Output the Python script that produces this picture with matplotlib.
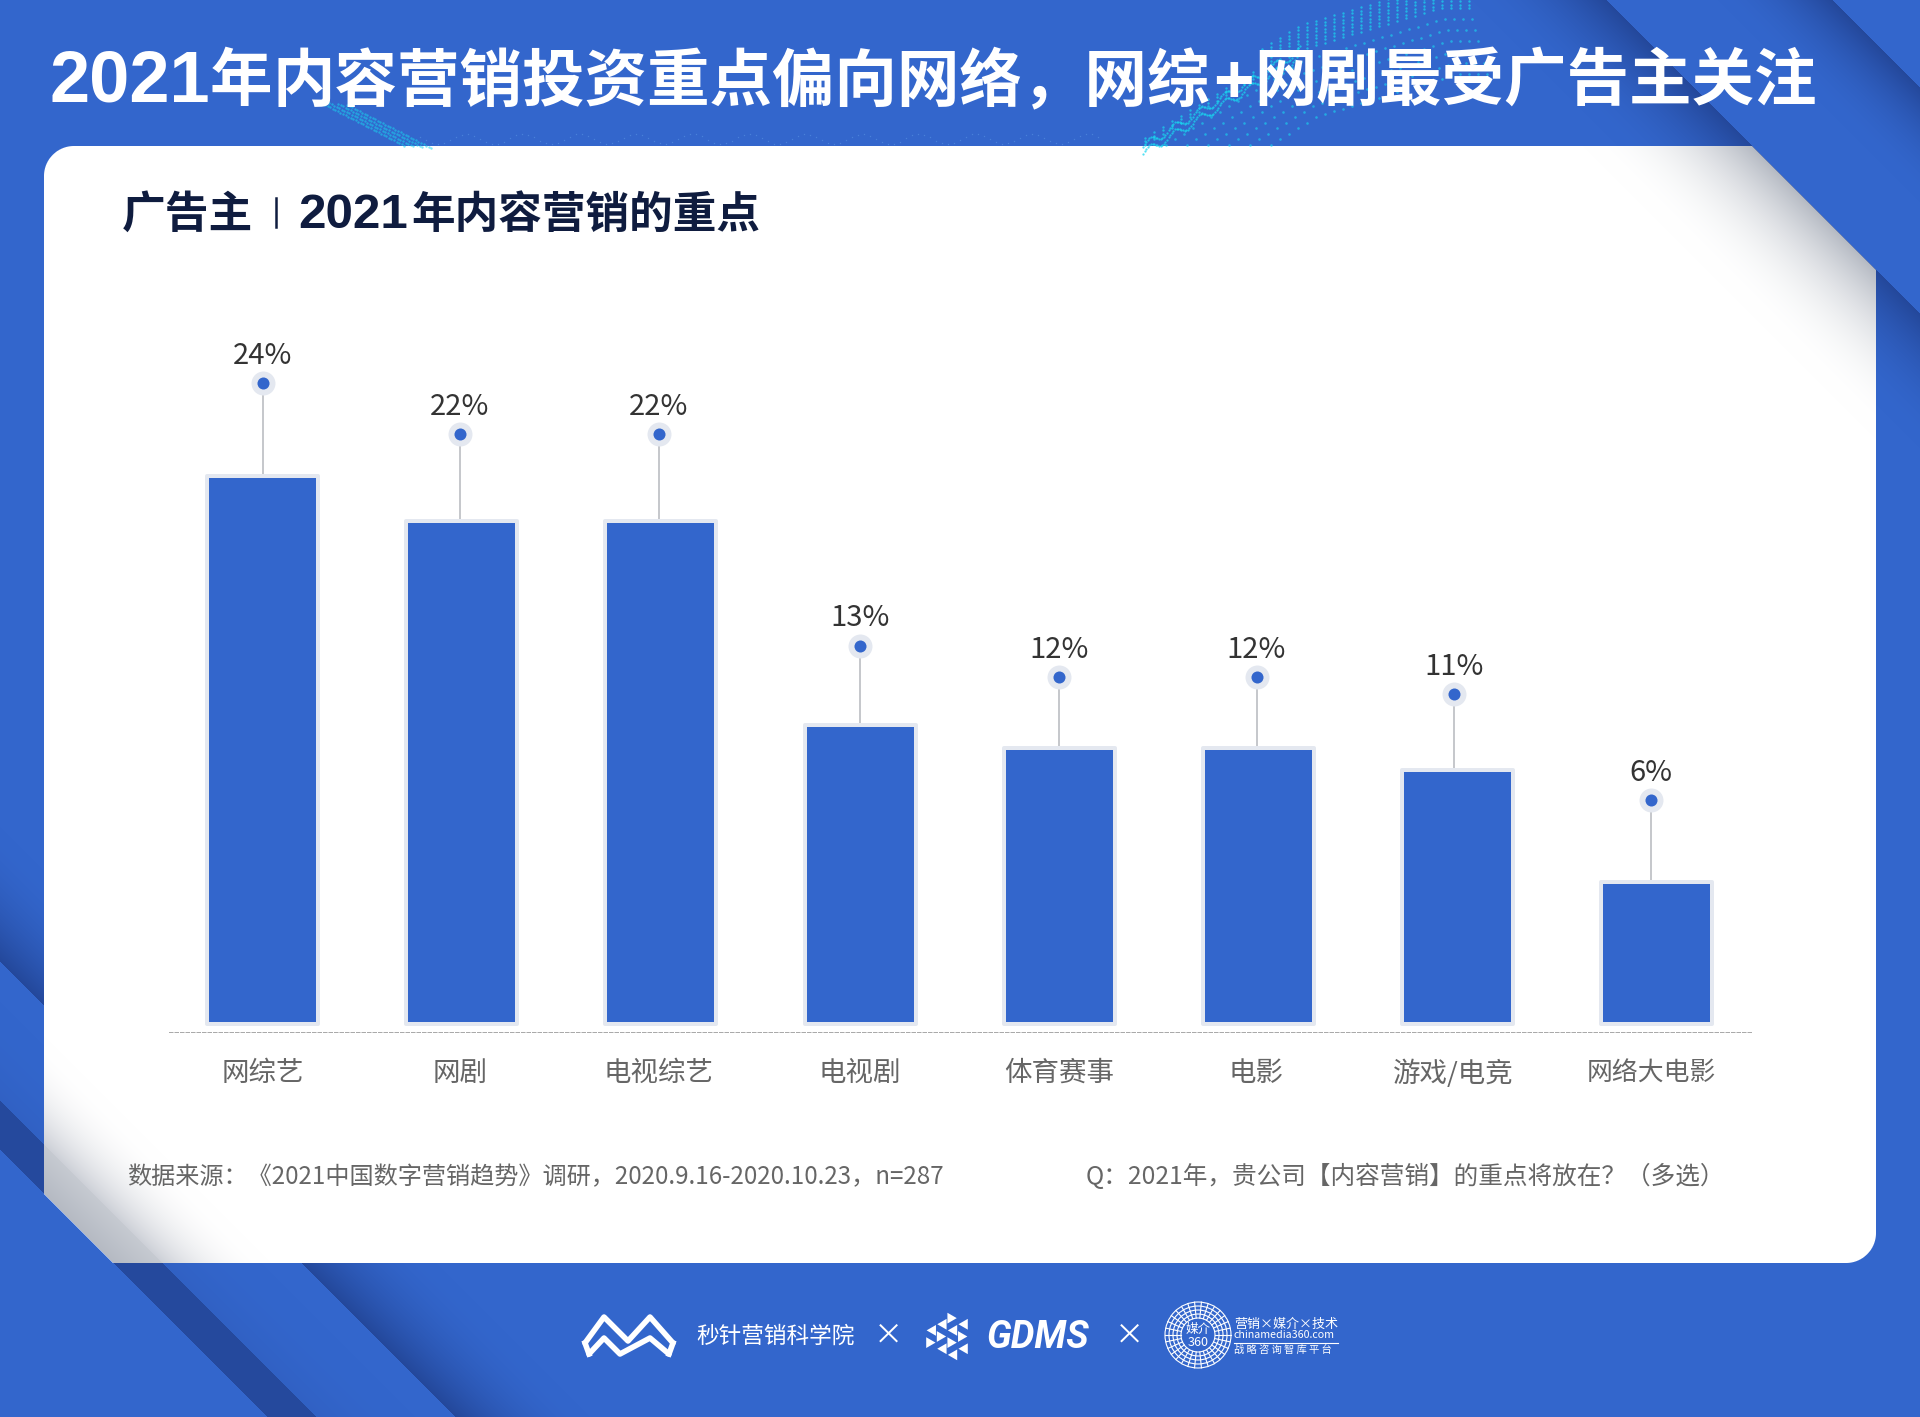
# -*- coding: utf-8 -*-
"""2021 内容营销重点柱状图，背景和页脚 logo 一起画。"""
import matplotlib
matplotlib.use("Agg")
import matplotlib.pyplot as plt
from matplotlib.patches import Circle, Polygon
import numpy as np

plt.rcParams["font.family"] = ["Noto Sans CJK SC", "DejaVu Sans"]
plt.rcParams["axes.unicode_minus"] = False

W, H = 1920, 1417

# 数据
categories = ["网综艺", "网剧", "电视综艺", "电视剧", "体育赛事", "电影", "游戏/电竞", "网络大电影"]
bar_values = [24.0, 22.0, 22.0, 13.1, 12.1, 12.1, 11.1, 6.2]
value_labels = ["24%", "22%", "22%", "13%", "12%", "12%", "11%", "6%"]
dot_values = [28.07, 25.84, 25.84, 16.57, 15.17, 15.17, 14.43, 9.79]
dot_x = [0.0, 0.99, 1.99, 3.0, 4.0, 4.99, 5.98, 6.97]

SOURCE = "数据来源：《2021中国数字营销趋势》调研，2020.9.16-2020.10.23，n=287"
QUESTION = "Q：2021年，贵公司【内容营销】的重点将放在？（多选）"

# 配色
BLUE = "#3366cc"
NAVY = "#0f1c3f"
EDGE = "#e4e8f0"
CYAN = "#19d8f0"
ARIAL = ["Liberation Sans", "DejaVu Sans"]


def rgb(c):
    return np.array(matplotlib.colors.to_rgb(c))


def lerp(img, color, t):
    img += (rgb(color) - img) * t[..., None]


def fade(d, size, power=2.0):
    """d=0 处为 1，到 size 处淡到 0，d<0 记 0"""
    return np.where(d >= 0, np.clip(1 - d / size, 0, 1) ** power, 0)


def background():
    yy, xx = np.mgrid[0:H, 0:W] + 0.5
    img = np.ones((H, W, 3)) * rgb(BLUE)
    dark = "#24489b"

    # 右上两条折痕
    d1 = yy - xx + 1606
    d2 = yy - xx + 1832
    lerp(img, dark, fade(d2, 115))
    lerp(img, dark, fade(d1, 135))
    # 左下折痕
    d3 = xx - yy + 961
    lerp(img, dark, fade(d3, 135))
    d4 = xx - yy + 1101
    lerp(img, "#2a52ab", fade(d4, 100) * 0.25)
    band = (yy - xx - 1101 >= 0) & (yy - xx - 1150 < 0)
    img[band] = rgb("#25499d")

    # 白色卡片，圆角矩形的距离场
    x0, x1, y0, y1, r = 44, 1876, 146, 1263, 30
    qx = np.abs(xx - (x0 + x1) / 2) - ((x1 - x0) / 2 - r)
    qy = np.abs(yy - (y0 + y1) / 2) - ((y1 - y0) / 2 - r)
    sdf = np.hypot(np.maximum(qx, 0), np.maximum(qy, 0)) + np.minimum(np.maximum(qx, qy), 0) - r
    alpha = np.clip(0.5 - sdf, 0, 1)
    alpha *= np.clip(d1 + 0.5, 0, 1)                 # 右上切角
    alpha *= np.clip(1150 - (yy - xx) + 0.5, 0, 1)   # 左下切角

    card = np.ones((H, W, 3))
    lerp(card, "#b5bac3", fade(d1, 170, 2.2))
    lerp(card, "#cdd0d7", fade(d4, 110, 2.2))
    e = np.clip((yy - xx - 1101) / 49, 0, 1)
    card[band] = (rgb("#c6cad1") + (rgb("#b5bac3") - rgb("#c6cad1")) * e[..., None])[band]
    return img + (card - img) * alpha[..., None]


def particles(ax):
    # 标题后面的青色点阵波纹
    xs = np.arange(1145, 1475, 9.0)
    ridge = np.where(xs < 1300, 146 - (xs - 1143) * 0.61,
                     np.maximum(50 - (xs - 1300) * 0.3, 8))
    for x, y in zip(xs, ridge):
        n = 3 if x < 1260 else 8
        ax.scatter(np.full(n, x), y - np.arange(n) * 3.5, s=3, color=CYAN, alpha=0.7,
                   linewidths=0, zorder=1)
        rows = np.arange(1, 7)
        offs = rows * 11.0
        keep = y + offs < 146
        ax.scatter(x + rows[keep] * 3.0, y + offs[keep], s=3.5, color=CYAN, alpha=0.6,
                   linewidths=0, zorder=1)
    # 亮一点的山脊线
    rx = np.arange(1143, 1300, 1.6)
    for off in (0, 7):
        ry = 146 - (rx - 1143) * 0.61 + off + 4 * np.sin(rx / 4.0)
        ax.scatter(rx, ry, s=2.6, color=CYAN, alpha=0.75, linewidths=0, zorder=1)
    # 左边一段
    t = np.arange(0, 1, 0.03)
    for off in (0, 9, 18, 27):
        ax.scatter(320 + off + 85 * t, 102 + 44 * t + off * 0.1, s=3, color=CYAN, alpha=0.55,
                   linewidths=0, zorder=1)
    # 下方很淡的细点
    gx = np.arange(420, 1100, 6.0)
    ax.scatter(gx, 139 - 5 * np.sin(gx / 9.0), s=1.0, color="#5f9ae6", alpha=0.5,
               linewidths=0, zorder=1)


def hexagon(ax, cx, cy, rad):
    # 六边形拼三角
    s = rad / 2
    w = s * np.sqrt(3) / 2
    for k in range(-2, 2):
        xa, xb = cx + k * w, cx + (k + 1) * w
        for m in range(-4, 4):
            ya = cy + (m + (k % 2) * 0.5) * s
            if (m + k) % 2 == 0:
                tri = np.array([(xa, ya), (xa, ya + s), (xb, ya + s / 2)])
            else:
                tri = np.array([(xb, ya), (xb, ya + s), (xa, ya + s / 2)])
            c = tri.mean(axis=0)
            dx, dy = abs(c[0] - cx), abs(c[1] - cy)
            if dx > rad * 0.866 or dy + dx * 0.577 > rad:
                continue
            ax.add_patch(Polygon(c + (tri - c) * 0.88, closed=True, fc="white", ec="none", zorder=3))


def footer(ax):
    # 秒针 logo
    upper = [(585, 1343), (604, 1317), (628, 1341), (650, 1317), (673, 1343)]
    lower = [(589, 1354), (604, 1338), (620, 1354), (650, 1338), (669, 1354)]
    for pts in (upper, lower):
        ax.plot(*zip(*pts), color="white", lw=4.0, solid_joinstyle="round",
                solid_capstyle="round", zorder=3)
    ax.plot([585, 589], [1343, 1354], color="white", lw=4.0, zorder=3)
    ax.plot([673, 669], [1343, 1354], color="white", lw=4.0, zorder=3)
    ax.text(696, 1336, "秒针营销科学院", color="white", fontsize=16.3, va="center", ha="left")
    ax.text(888, 1336, "×", color="white", fontsize=21, va="center", ha="center")
    ax.text(1129, 1336, "×", color="white", fontsize=21, va="center", ha="center")

    hexagon(ax, 947, 1336.5, 24.5)
    ax.text(986, 1337, "GDMS", color="white", fontsize=27, va="center", ha="left",
            family=["Roboto", "DejaVu Sans"], fontweight="bold", fontstyle="italic")

    # 媒介360 圆形 logo
    cx, cy = 1198, 1335
    for rad in (33, 29, 25, 21, 17):
        ax.add_patch(Circle((cx, cy), rad, fc="none", ec="white", lw=0.8, zorder=3))
    for a in np.arange(0, 360, 12):
        c, s = np.cos(np.radians(a)), np.sin(np.radians(a))
        ax.plot([cx + 17 * c, cx + 33 * c], [cy + 17 * s, cy + 33 * s], color="white", lw=0.8, zorder=3)
    ax.text(cx, cy - 6, "媒介", color="white", fontsize=9, ha="center", va="center")
    ax.text(cx, cy + 8, "360", color="white", fontsize=9, ha="center", va="center")
    ax.text(1234, 1324, "营销×媒介×技术", color="white", fontsize=9.4, ha="left", va="center",
            fontweight="medium")
    ax.text(1234, 1335, "chinamedia360.com", color="white", fontsize=7.7, ha="left", va="center")
    ax.plot([1234, 1338], [1343, 1343], color="white", lw=0.8, zorder=3)
    ax.text(1234, 1350, " ".join("战略咨询智库平台"), color="white", fontsize=7.4, ha="left", va="center")


fig = plt.figure(figsize=(W / 100, H / 100), dpi=100)

# 背景层，坐标就是像素
bg = fig.add_axes([0, 0, 1, 1])
bg.imshow(background(), extent=(0, W, H, 0), interpolation="nearest", aspect="auto", zorder=0)
bg.set_xlim(0, W)
bg.set_ylim(H, 0)
bg.axis("off")
particles(bg)
footer(bg)

# 标题：数字和加号是另一种字体，分段放
title_kw = dict(color="white", fontweight="bold", va="baseline", ha="left", zorder=4)
bg.text(49, 102, "2021", fontsize=52, family=ARIAL, **title_kw)
bg.text(210, 100, "年", fontsize=45, **title_kw)
bg.text(273, 100, "内容营销投资重点偏向网络，网综", fontsize=45, **title_kw)
bg.text(1213, 102, "+", fontsize=50, family=ARIAL, **title_kw)
bg.text(1254, 100, "网剧最受广告主关注", fontsize=45, **title_kw)

sub_kw = dict(color=NAVY, fontweight="bold", va="baseline", ha="left")
bg.text(122, 228, "广告主", fontsize=31.5, **sub_kw)
bg.plot([276, 276], [198, 227], color=NAVY, lw=1.8)
bg.text(298, 228, "2021", fontsize=35.5, family=ARIAL, **sub_kw)
bg.text(411, 228, "年内容营销的重点", fontsize=31.4, **sub_kw)

bg.text(127, 1177, SOURCE, color="#666666", fontsize=17.4, va="center", ha="left")
bg.text(1086, 1177, QUESTION, color="#666666", fontsize=17.75, va="center", ha="left")

# 柱状图
X_PX, X_STEP = 262.5, 199.2
Y_PX, Y_STEP = 1024, 22.875
left, right, top, base = 169, 1751, 338.75, 1031.5
ax = fig.add_axes([left / W, (H - base) / H, (right - left) / W, (base - top) / H])
ax.patch.set_alpha(0)
ax.set_xlim((left - X_PX) / X_STEP, (right - X_PX) / X_STEP)
ax.set_ylim(-(base - Y_PX) / Y_STEP, 30)

x = np.arange(len(categories))
ax.vlines(dot_x, bar_values, dot_values, color="#c6c8cc", lw=1.44, zorder=1)
ax.bar(x, bar_values, width=0.558, color=BLUE, edgecolor=EDGE, linewidth=2.88,
       joinstyle="round", zorder=2)
ax.scatter(dot_x, dot_values, s=298, color=EDGE, linewidths=0, zorder=3)
ax.scatter(dot_x, dot_values, s=75, color=BLUE, linewidths=0, zorder=4)
for xi, v, lab in zip(dot_x, dot_values, value_labels):
    ax.annotate(lab, (xi, v), xytext=(0, 19.5), textcoords="offset points", ha="center",
                va="center", fontsize=21, color="#333333")

for side in ("top", "left", "right"):
    ax.spines[side].set_visible(False)
ax.spines["bottom"].set_linestyle((0, (3.5, 2)))
ax.spines["bottom"].set_linewidth(0.72)
ax.spines["bottom"].set_color("#aaaaaa")
ax.set_yticks([])
ax.set_xticks(dot_x)
ax.set_xticklabels(categories, fontsize=19.8, color="#666666")
ax.get_xticklabels()[-1].set_fontsize(18.6)   # 最后一个标签原图就窄一点
ax.tick_params(axis="x", length=0, pad=20.5)

fig.savefig("out.png", dpi=100)
